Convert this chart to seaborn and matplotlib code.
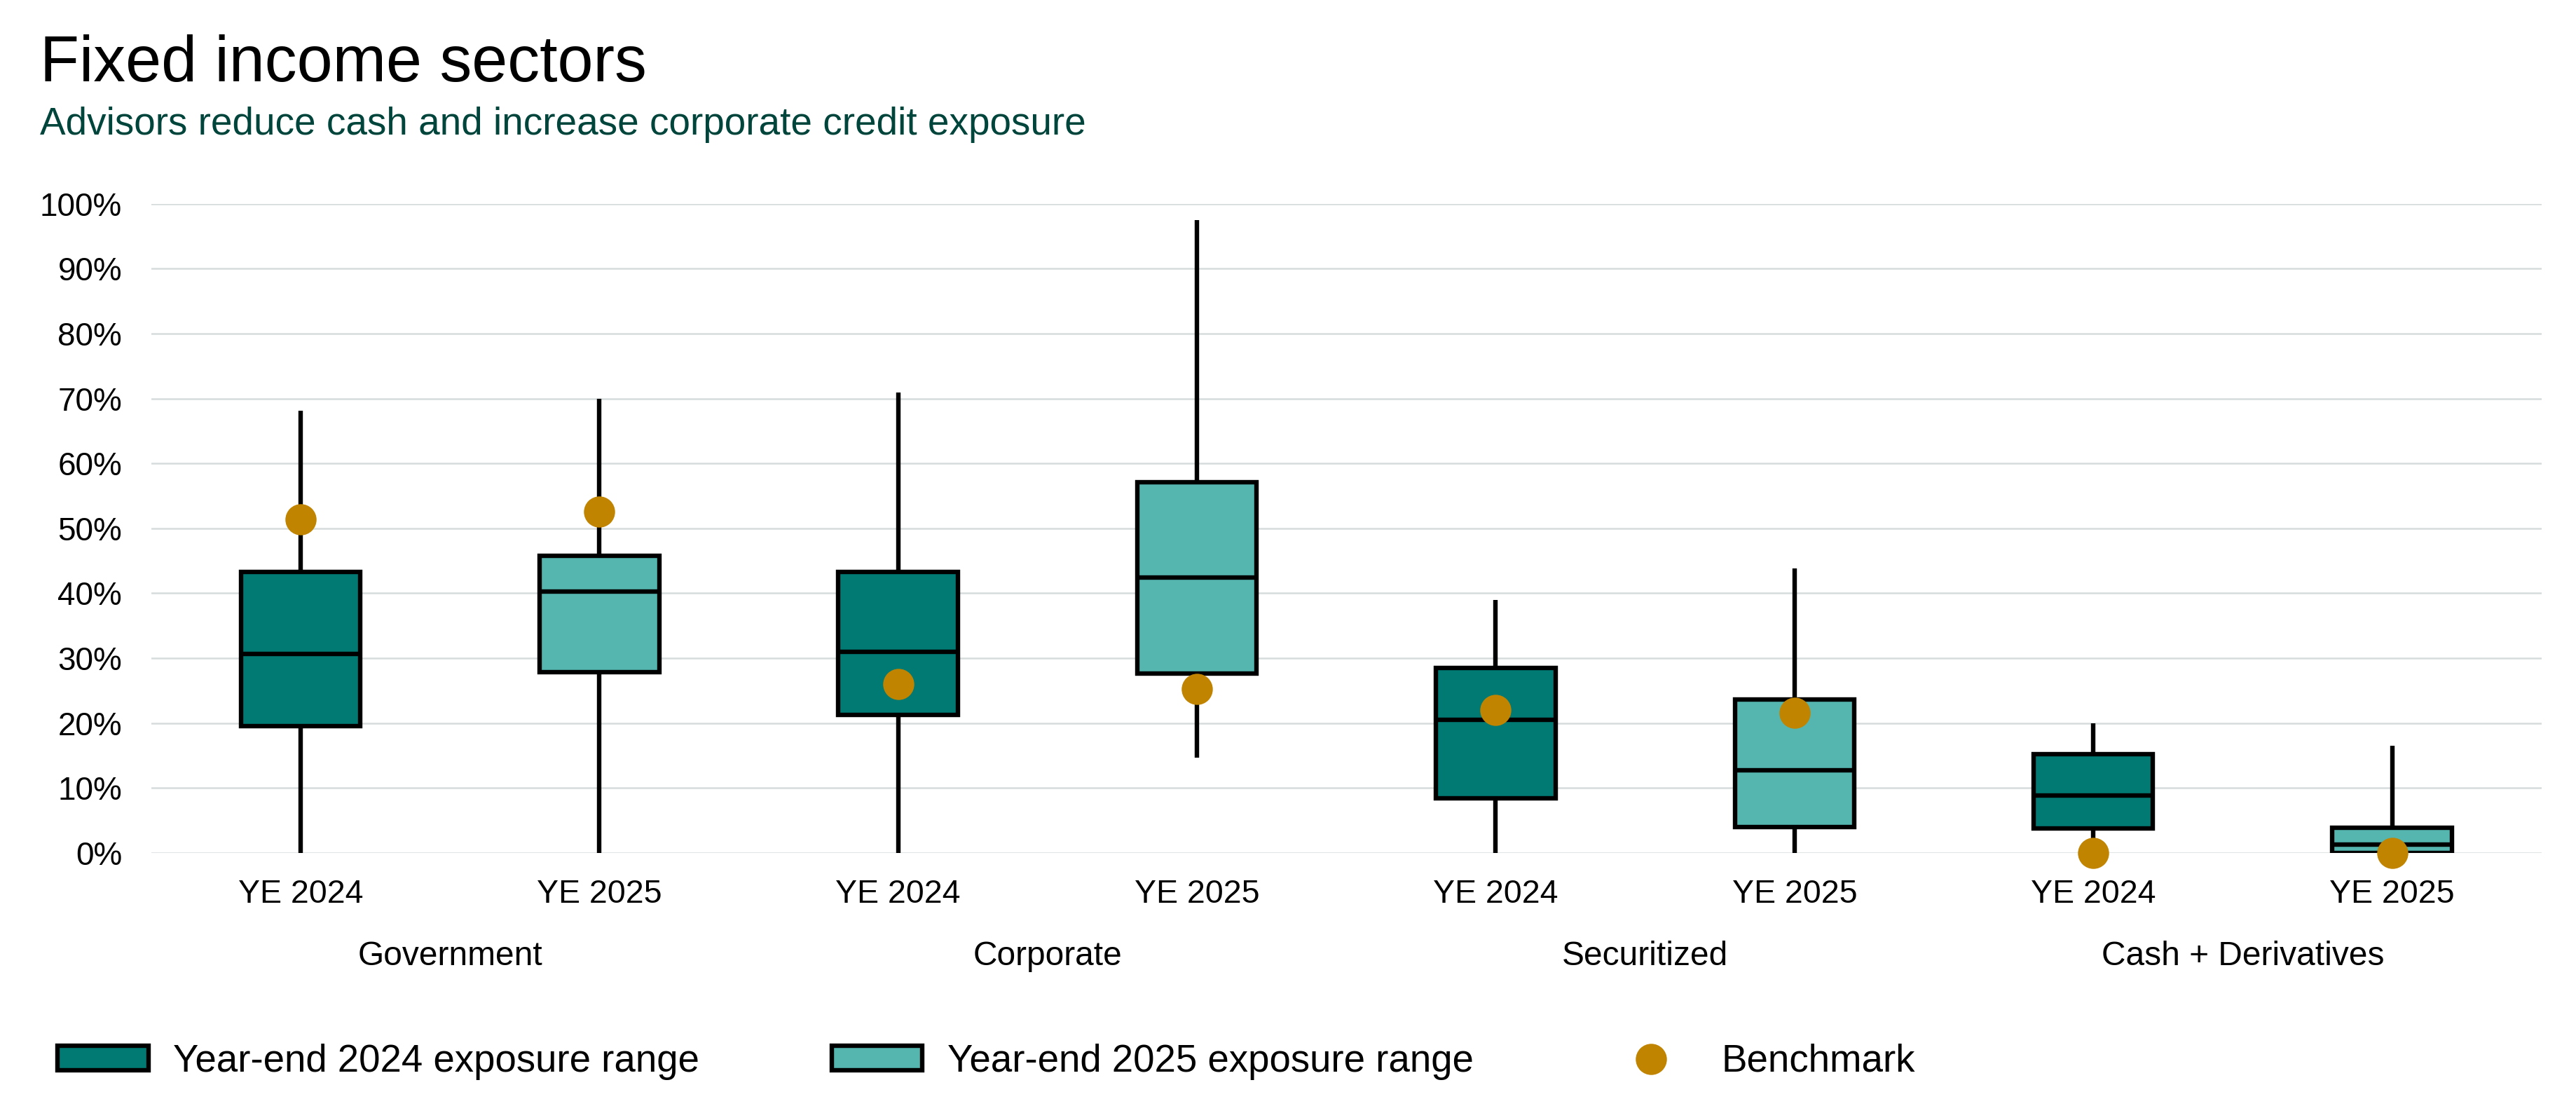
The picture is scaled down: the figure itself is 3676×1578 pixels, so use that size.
import numpy as np
import pandas as pd
import matplotlib
matplotlib.use("Agg")
import matplotlib.pyplot as plt
from matplotlib.patches import Patch
from matplotlib.lines import Line2D
import seaborn as sns

# ---------------- data (percent) ----------------
sectors = ["Government", "Corporate", "Securitized", "Cash + Derivatives"]
years = ["YE 2024", "YE 2025"]
whisker_low = [0.0, 0.0, 0.0, 14.7, 0.0, 0.0, 0.0, 0.0]
box_q1      = [19.5, 27.8, 21.3, 27.6, 8.4, 4.0, 3.8, 0.0]
box_median  = [30.7, 40.3, 31.0, 42.4, 20.5, 12.7, 8.9, 1.3]
box_q3      = [43.3, 45.8, 43.3, 57.1, 28.5, 23.6, 15.2, 3.9]
whisker_high= [68.1, 69.9, 70.9, 97.5, 39.0, 43.8, 20.0, 16.5]
benchmark   = [51.4, 52.6, 26.0, 25.3, 22.0, 21.6, 0.0, 0.0]
yticks = [0, 10, 20, 30, 40, 50, 60, 70, 80, 90, 100]

slot_sector = [s for s in sectors for _ in years]
slot_year = [y for _ in sectors for y in years]
slot_id = [f"{s}|{y}" for s, y in zip(slot_sector, slot_year)]

rows = []
for i, sid in enumerate(slot_id):
    for v in (whisker_low[i], box_q1[i], box_median[i], box_q3[i], whisker_high[i]):
        rows.append({"slot": sid, "year": slot_year[i], "value": v})
df = pd.DataFrame(rows)
bench_df = pd.DataFrame({"slot": slot_id, "year": slot_year, "value": benchmark})

C24 = "#007A73"
C25 = "#55B6B0"
GOLD = "#C08400"
GRID = "#D6DCDC"

sns.set_theme(style="white")
plt.rcParams["font.family"] = ["Liberation Sans", "DejaVu Sans"]
plt.rcParams["text.color"] = "black"

fig = plt.figure(figsize=(36.76, 15.78), dpi=100)
ax = fig.add_axes([0.0587, 0.2288, 0.9866 - 0.0587, 0.8158 - 0.2288])

sns.boxplot(
    data=df, x="slot", y="value", hue="year", order=slot_id,
    hue_order=years, palette=[C24, C25], saturation=1, dodge=False, width=0.4,
    whis=(0, 100), showfliers=False, linewidth=4.6, linecolor="black",
    capprops=dict(linewidth=0), legend=False, ax=ax,
)
for p in ax.patches:
    p.set_zorder(3)
for l in ax.lines:
    l.set_zorder(3)

sns.stripplot(
    data=bench_df, x="slot", y="value", order=slot_id, jitter=False,
    color=GOLD, size=32, linewidth=0, ax=ax, zorder=5,
)
for c in ax.collections:
    c.set_clip_on(False)
    c.set_zorder(5)

ax.set_ylim(0, 100)
ax.set_xlim(-0.5, len(slot_id) - 0.5)
ax.set_yticks(yticks)
ax.set_yticklabels([f"{t}%" for t in yticks])
ax.set_xticks(range(len(slot_id)))
ax.set_xticklabels(slot_year)
ax.yaxis.grid(True, color=GRID, linewidth=1.8, zorder=0)
ax.set_axisbelow(True)
ax.tick_params(axis="y", length=0, pad=30, labelsize=33, labelcolor="black")
ax.tick_params(axis="x", length=0, pad=27, labelsize=33.5, labelcolor="black")
ax.set_xlabel("")
ax.set_ylabel("")
for s in ax.spines.values():
    s.set_visible(False)

# sector labels
for k, sec in enumerate(sectors):
    ax.text(2 * k + 0.5, -15.9, sec, ha="center", va="center",
            fontsize=34.5, color="black", transform=ax.transData)

# title & subtitle
fig.text(0.0155, 0.942, "Fixed income sectors", fontsize=66, color="black",
         ha="left", va="center")
fig.text(0.0155, 0.887, "Advisors reduce cash and increase corporate credit exposure",
         fontsize=39.5, color="#00453C", ha="left", va="center")

handles = [
    Patch(facecolor=C24, edgecolor="black", linewidth=4.6),
    Patch(facecolor=C25, edgecolor="black", linewidth=4.6),
    Line2D([0], [0], marker="o", linestyle="none", markersize=32,
           markerfacecolor=GOLD, markeredgewidth=0),
]
labels = ["Year-end 2024 exposure range", "Year-end 2025 exposure range", "Benchmark"]
leg = fig.legend(handles, labels, loc="center left", bbox_to_anchor=(0.0223, 0.040),
                 ncol=3, frameon=False, fontsize=39.3, handlelength=2.38,
                 handleheight=0.6, handletextpad=0.65, columnspacing=3.45,
                 borderpad=0, borderaxespad=0)
for t in leg.get_texts():
    t.set_color("black")

fig.savefig("out.png", dpi=100, facecolor="white")
